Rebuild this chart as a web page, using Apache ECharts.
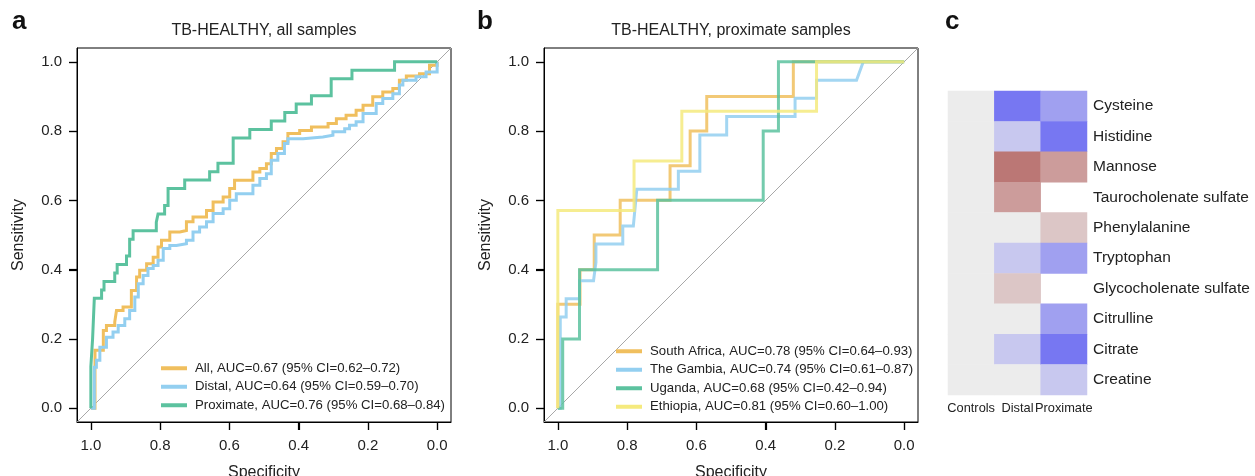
<!DOCTYPE html>
<html><head><meta charset="utf-8">
<script src="https://cdn.jsdelivr.net/npm/echarts@6/dist/echarts.min.js"></script>
<style>html,body{margin:0;padding:0;background:#fff}#c{width:1255px;height:476px}</style>
</head><body><div id="c"></div>
<script>
// ---------- DATA ----------
const tickValues = [0, 0.2, 0.4, 0.6, 0.8, 1.0];

// Panel a: all samples
const allSpec = [1.0,0.988,0.964,0.955,0.931,0.926,0.907,0.883,0.868,0.859,0.839,0.82,0.806,0.796,0.772,0.743,0.724,0.705,0.666,0.647,0.618,0.599,0.585,0.551,0.532,0.512,0.493,0.479,0.464,0.445,0.431,0.397,0.363,0.315,0.291,0.263,0.234,0.214,0.186,0.157,0.128,0.109,0.089,0.051,0.022,0];
const allSens = [0,0.167,0.224,0.239,0.249,0.282,0.292,0.34,0.379,0.398,0.417,0.436,0.465,0.485,0.509,0.513,0.538,0.552,0.571,0.595,0.61,0.634,0.658,0.658,0.682,0.692,0.706,0.735,0.75,0.769,0.793,0.802,0.812,0.822,0.836,0.846,0.86,0.875,0.899,0.913,0.923,0.947,0.959,0.966,0.99,1.0];

const distSpec = [1.0,0.99,0.984,0.974,0.955,0.936,0.921,0.902,0.888,0.873,0.863,0.849,0.835,0.82,0.806,0.791,0.772,0.753,0.724,0.705,0.686,0.666,0.647,0.618,0.599,0.58,0.551,0.532,0.512,0.493,0.479,0.46,0.441,0.431,0.387,0.33,0.301,0.267,0.253,0.234,0.214,0.176,0.157,0.128,0.109,0.099,0.061,0.032,0];
const distSens = [0,0.118,0.138,0.176,0.205,0.22,0.239,0.258,0.282,0.321,0.359,0.383,0.403,0.412,0.427,0.461,0.47,0.475,0.485,0.509,0.523,0.538,0.562,0.576,0.6,0.619,0.619,0.644,0.663,0.677,0.716,0.735,0.764,0.778,0.783,0.788,0.798,0.807,0.817,0.827,0.851,0.88,0.894,0.908,0.933,0.947,0.957,0.971,1.0];

const proxSpec = [1.0,1.0,0.995,0.99,0.969,0.969,0.962,0.962,0.931,0.931,0.924,0.924,0.897,0.897,0.888,0.888,0.878,0.878,0.811,0.811,0.806,0.806,0.787,0.787,0.777,0.777,0.729,0.729,0.657,0.657,0.633,0.633,0.589,0.589,0.541,0.541,0.479,0.479,0.44,0.44,0.407,0.407,0.363,0.363,0.306,0.306,0.246,0.246,0.123,0.123,0];
const proxSens = [0,0.12,0.2,0.317,0.317,0.341,0.341,0.366,0.366,0.39,0.39,0.415,0.415,0.439,0.439,0.488,0.488,0.512,0.512,0.537,0.537,0.561,0.561,0.585,0.585,0.634,0.634,0.659,0.659,0.683,0.683,0.707,0.707,0.78,0.78,0.805,0.805,0.829,0.829,0.854,0.854,0.878,0.878,0.902,0.902,0.951,0.951,0.976,0.976,1.0,1.0];

// Panel b: proximate samples by site
const saSpec = [1,1,0.936,0.936,0.895,0.895,0.82,0.82,0.676,0.676,0.618,0.618,0.57,0.57,0.32,0.32,0];
const saSens = [0,0.3,0.3,0.4,0.4,0.5,0.5,0.6,0.6,0.7,0.7,0.8,0.8,0.9,0.9,1.0,1.0];

const gmSpec = [1,0.993,0.993,0.976,0.976,0.9375,0.9375,0.897,0.89,0.89,0.8125,0.8125,0.782,0.772,0.652,0.652,0.59,0.59,0.5125,0.5125,0.315,0.315,0.253,0.253,0.1375,0.118,0];
const gmSens = [0,0,0.263,0.263,0.316,0.316,0.368,0.368,0.421,0.474,0.474,0.526,0.526,0.632,0.632,0.684,0.684,0.789,0.789,0.842,0.842,0.895,0.895,0.947,0.947,1.0,1.0];

const ugSpec = [1,0.986,0.986,0.9375,0.9375,0.712,0.712,0.407,0.407,0.363,0.363,0];
const ugSens = [0,0,0.2,0.2,0.4,0.4,0.6,0.6,0.8,0.8,1.0,1.0];

const etSpec = [1,1,0.78,0.78,0.642,0.642,0.253,0.253,0];
const etSens = [0,0.571,0.571,0.714,0.714,0.857,0.857,1.0,1.0];

const legendA = ['All, AUC=0.67 (95% CI=0.62\u20130.72)','Distal, AUC=0.64 (95% CI=0.59\u20130.70)','Proximate, AUC=0.76 (95% CI=0.68\u20130.84)'];
const legendB = ['South Africa, AUC=0.78 (95% CI=0.64\u20130.93)','The Gambia, AUC=0.74 (95% CI=0.61\u20130.87)','Uganda, AUC=0.68 (95% CI=0.42\u20130.94)','Ethiopia, AUC=0.81 (95% CI=0.60\u20131.00)'];

// Panel c: heatmap (level: -3 strong blue ... 3 strong red, null = no cell)
const heatCols = ['Controls','Distal','Proximate'];
const heatRows = ['Cysteine','Histidine','Mannose','Taurocholenate sulfate','Phenylalanine','Tryptophan','Glycocholenate sulfate','Citrulline','Citrate','Creatine'];
const ctrlVals = [0,0,0,0,0,0,0,0,0,0];
const distVals = [-3,-1,3,2,0,-1,1,0,-1,0];
const proxVals = [-2,-3,2,null,1,-2,null,-2,-3,-1];

// ---------- CHART ----------
const FONT = '"Liberation Sans", Arial, Helvetica, sans-serif';
const TXT = '#222';
const C_ORANGE = '#F0BF5E', C_BLUE = '#93CFF0', C_GREEN = '#5CC29F', C_YELLOW = '#F5EA7E';
const LO = -0.04, HI = 1.04, TICK_LEN = 8;
const pairs = (xs, ys) => xs.map((x, i) => [x, ys[i]]);

function rocX(gi) {
  return {
    type: 'value', gridIndex: gi, min: LO, max: HI, inverse: true, position: 'bottom',
    name: 'Specificity', nameLocation: 'middle', nameGap: 43,
    nameTextStyle: { fontSize: 16, color: TXT, fontFamily: FONT },
    axisLine: { show: true, onZero: false, lineStyle: { color: '#000', width: 1 } }, splitLine: { show: false },
    axisTick: { show: true, inside: false, customValues: tickValues, length: TICK_LEN, lineStyle: { color: '#000', width: 1.2 } },
    axisLabel: { show: true, customValues: tickValues, formatter: v => v.toFixed(1), margin: 16, fontSize: 15, color: TXT, fontFamily: FONT }
  };
}
function rocY(gi) {
  return {
    type: 'value', gridIndex: gi, min: LO, max: HI, position: 'left',
    name: 'Sensitivity', nameLocation: 'middle', nameGap: 50,
    nameTextStyle: { fontSize: 16, color: TXT, fontFamily: FONT },
    axisLine: { show: true, onZero: false, lineStyle: { color: '#000', width: 1 } }, splitLine: { show: false },
    axisTick: { show: true, inside: false, customValues: tickValues, length: TICK_LEN, lineStyle: { color: '#000', width: 1.2 } },
    axisLabel: { show: true, customValues: tickValues, formatter: v => v.toFixed(1), margin: 15, fontSize: 15, color: TXT, fontFamily: FONT }
  };
}
function diag(gi) {
  return { type: 'line', xAxisIndex: gi, yAxisIndex: gi, data: [[HI, LO], [LO, HI]],
    symbol: 'none', silent: true, lineStyle: { color: '#a8a8a8', width: 1 }, z: 1, legendHoverLink: false, tooltip: { show: false } };
}
function roc(gi, name, color, xs, ys, step, opacity) {
  return { type: 'line', name, xAxisIndex: gi, yAxisIndex: gi, data: pairs(xs, ys), step: step || false,
    symbol: 'none', color, itemStyle: { color }, lineStyle: { color, width: 3, opacity: opacity || 1, cap: 'butt', join: 'miter' },
    z: 3, silent: true, emphasis: { disabled: true } };
}

const heatData = [];
[ctrlVals, distVals, proxVals].forEach((col, ci) => col.forEach((v, ri) => { if (v !== null) heatData.push([ci, ri, v]); }));

const series = [
  diag(0),
  roc(0, legendA[0], C_ORANGE, allSpec, allSens, 'end'),
  roc(0, legendA[1], C_BLUE, distSpec, distSens, 'end'),
  roc(0, legendA[2], C_GREEN, proxSpec, proxSens),
  diag(1),
  roc(1, legendB[0], C_ORANGE, saSpec, saSens, false, 0.85),
  roc(1, legendB[1], C_BLUE, gmSpec, gmSens, false, 0.85),
  roc(1, legendB[2], C_GREEN, ugSpec, ugSens, false, 0.85),
  roc(1, legendB[3], C_YELLOW, etSpec, etSens, false, 0.85),
  { type: 'heatmap', xAxisIndex: 2, yAxisIndex: 2, data: heatData, silent: true,
    itemStyle: { borderWidth: 0 }, emphasis: { disabled: true } }
];

const legendCommon = {
  orient: 'vertical', icon: 'rect', itemWidth: 26, itemHeight: 4, itemGap: 4, selectedMode: false,
  textStyle: { fontSize: 13.2, color: TXT, fontFamily: FONT, lineHeight: 14.5, padding: [0, 0, 0, 3] }, padding: 0
};

const gridBase = { width: 374, height: 374, top: 48, show: true, borderColor: '#000', borderWidth: 1, backgroundColor: 'transparent', outerBoundsMode: 'none' };

const textGraphics = [
  { id: 'la', type: 'text', x: 12, y: 22, style: { text: 'a', font: 'bold 26px ' + FONT, fill: '#111', align: 'left', verticalAlign: 'middle', textAlign: 'left', textVerticalAlign: 'middle' } },
  { id: 'lb', type: 'text', x: 477, y: 22, style: { text: 'b', font: 'bold 26px ' + FONT, fill: '#111', align: 'left', verticalAlign: 'middle', textAlign: 'left', textVerticalAlign: 'middle' } },
  { id: 'lc', type: 'text', x: 945, y: 22, style: { text: 'c', font: 'bold 26px ' + FONT, fill: '#111', align: 'left', verticalAlign: 'middle', textAlign: 'left', textVerticalAlign: 'middle' } },
  { id: 'ta', type: 'text', x: 264, y: 31, style: { text: 'TB-HEALTHY, all samples', font: '16px ' + FONT, fill: TXT, align: 'center', verticalAlign: 'middle', textAlign: 'center', textVerticalAlign: 'middle' } },
  { id: 'tb', type: 'text', x: 731, y: 31, style: { text: 'TB-HEALTHY, proximate samples', font: '16px ' + FONT, fill: TXT, align: 'center', verticalAlign: 'middle', textAlign: 'center', textVerticalAlign: 'middle' } }
];

const option = {
  animation: false,
  textStyle: { fontFamily: FONT },
  grid: [
    Object.assign({}, gridBase, { left: 77 }),
    Object.assign({}, gridBase, { left: 544 }),
    { left: 948, top: 91, width: 139, height: 304, outerBoundsMode: 'none' }
  ],
  xAxis: [ rocX(0), rocX(1),
    { type: 'category', gridIndex: 2, data: heatCols, axisLine: { show: false }, axisTick: { show: false }, splitLine: { show: false },
      axisLabel: { fontSize: 12.8, color: TXT, fontFamily: FONT, margin: 7, interval: 0 } } ],
  yAxis: [ rocY(0), rocY(1),
    { type: 'category', gridIndex: 2, data: heatRows, inverse: true, position: 'right', axisLine: { show: false }, axisTick: { show: false }, splitLine: { show: false },
      axisLabel: { fontSize: 15.5, color: TXT, fontFamily: FONT, margin: 6, interval: 0 } } ],
  legend: [
    Object.assign({}, legendCommon, { data: legendA, left: 161, top: 361 }),
    Object.assign({}, legendCommon, { data: legendB, left: 616, top: 344 })
  ],
  visualMap: {
    type: 'piecewise', show: false, seriesIndex: 9, dimension: 2,
    pieces: [
      { value: -3, color: '#7777F2' }, { value: -2, color: '#A0A0F0' }, { value: -1, color: '#C8C8EF' },
      { value: 0, color: '#ECECEC' },
      { value: 1, color: '#DCC6C6' }, { value: 2, color: '#CC9C9B' }, { value: 3, color: '#BB7775' }
    ]
  },
  graphic: textGraphics,
  series
};

const chart = echarts.init(document.getElementById('c'), null, { renderer: 'canvas' });
chart.setOption(option);

// Outward R-style tick marks, positioned through the axes' own scales
const tickGraphics = [];
[0, 1].forEach(gi => {
  const finder = { xAxisIndex: gi, yAxisIndex: gi };
  tickValues.forEach((v, k) => {
    const px = chart.convertToPixel(finder, [v, LO]);
    const py = chart.convertToPixel(finder, [HI, v]);
    if (px && isFinite(px[0]) && isFinite(px[1])) {
      const x = Math.round(px[0]) + 0.5, y = Math.round(px[1]);
      tickGraphics.push({ id: 'tx' + gi + '_' + k, type: 'line', z: 100, silent: true,
        shape: { x1: x, y1: y, x2: x, y2: y + TICK_LEN }, style: { stroke: '#000', lineWidth: 1.2 } });
    }
    if (py && isFinite(py[0]) && isFinite(py[1])) {
      const x2 = Math.round(py[0]), y2 = Math.round(py[1]) + 0.5;
      tickGraphics.push({ id: 'ty' + gi + '_' + k, type: 'line', z: 100, silent: true,
        shape: { x1: x2, y1: y2, x2: x2 - TICK_LEN, y2: y2 }, style: { stroke: '#000', lineWidth: 1.2 } });
    }
  });
});
chart.setOption({ graphic: textGraphics.concat(tickGraphics) });
</script>
</body></html>
